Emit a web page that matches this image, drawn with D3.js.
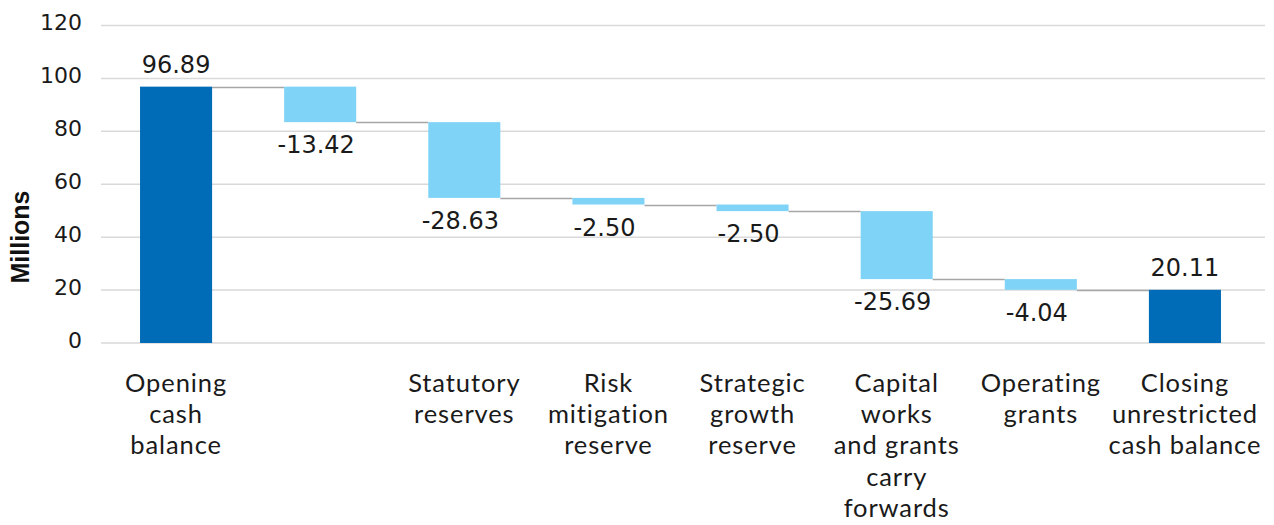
<!DOCTYPE html>
<html>
<head>
<meta charset="utf-8">
<script src="https://cdn.jsdelivr.net/npm/d3@7"></script>
<style>
  html, body { margin: 0; padding: 0; background: #fff; }
  svg { display: block; font-family: Lato, "Noto Sans", sans-serif; }
</style>
</head>
<body>
<svg id="chart" width="1274" height="525"></svg>
<script>
// Waterfall of the unrestricted cash position (values in millions)
const categories = [
  ["Opening", "cash", "balance"],
  [],
  ["Statutory", "reserves"],
  ["Risk", "mitigation", "reserve"],
  ["Strategic", "growth", "reserve"],
  ["Capital", "works", "and grants", "carry", "forwards"],
  ["Operating", "grants"],
  ["Closing", "unrestricted", "cash balance"]
];
const values = [96.89, -13.42, -28.63, -2.50, -2.50, -25.69, -4.04, 20.11];
const isTotal = [true, false, false, false, false, false, false, true];
const yTicks = [0, 20, 40, 60, 80, 100, 120];

const svg = d3.select("#chart");
const darkBlue = "#006BB6", lightBlue = "#7FD3F7";
const numFont = "'DejaVu Sans', Verdana, sans-serif";

// Running totals give each bar its start and end
let running = 0;
const bars = values.map((v, i) => {
  let y0, y1;
  if (isTotal[i]) { y0 = 0; y1 = v; running = v; }
  else { y0 = running; y1 = running + v; running = y1; }
  return { i, v, y0, y1, total: isTotal[i] };
});

const x = d3.scaleBand().domain(d3.range(categories.length)).range([104, 1257])
  .paddingInner(0.5).paddingOuter(0.25);
const y = d3.scaleLinear().domain([0, 120]).range([343, 25.5]);

// Gridlines
svg.append("g").selectAll("line").data(yTicks).join("line")
  .attr("x1", 101).attr("x2", 1265)
  .attr("y1", d => y(d)).attr("y2", d => y(d))
  .attr("stroke", "#d9d9d9").attr("stroke-width", 1.5);

// Y axis labels
const yAxis = svg.append("g").attr("transform", "translate(82,0)")
  .call(d3.axisLeft(y).tickValues(yTicks).tickSize(0).tickPadding(0));
yAxis.select(".domain").remove();
yAxis.selectAll("text")
  .attr("font-family", numFont)
  .attr("font-size", 22).attr("fill", "#1a1a1a").attr("dy", "0.2em");

svg.append("text")
  .attr("transform", "translate(29,237) rotate(-90)")
  .attr("text-anchor", "middle")
  .attr("font-family", "'Liberation Sans', Arial, sans-serif")
  .attr("font-weight", "bold").attr("font-size", 25).attr("fill", "#111")
  .text("Millions");

// Connector lines between consecutive bars
svg.append("g").selectAll("line").data(bars.slice(0, -1)).join("line")
  .attr("x1", d => x(d.i) + x.bandwidth())
  .attr("x2", d => x(d.i + 1))
  .attr("y1", d => Math.round(y(d.y1)) + 0.5)
  .attr("y2", d => Math.round(y(d.y1)) + 0.5)
  .attr("stroke", "#a6a6a6").attr("stroke-width", 1.5);

// Bars
svg.append("g").selectAll("rect").data(bars).join("rect")
  .attr("x", d => x(d.i))
  .attr("width", x.bandwidth())
  .attr("y", d => y(Math.max(d.y0, d.y1)))
  .attr("height", d => Math.abs(y(d.y0) - y(d.y1)))
  .attr("fill", d => d.total ? darkBlue : lightBlue);

// Value labels: above totals, below decreases
svg.append("g").selectAll("text").data(bars).join("text")
  .attr("x", d => x(d.i) + x.bandwidth() / 2)
  .attr("y", d => d.total ? y(d.y1) - 14 : y(Math.min(d.y0, d.y1)) + 31)
  .attr("dx", d => d.v < 0 ? -4 : 0)
  .attr("text-anchor", "middle")
  .attr("font-family", numFont)
  .attr("font-size", 24).attr("fill", "#1a1a1a")
  .text(d => d.v.toFixed(2));

// Category labels, one tspan per line
const cat = svg.append("g").selectAll("text").data(categories).join("text")
  .attr("text-anchor", "middle")
  .attr("font-size", 25.5).attr("letter-spacing", 0.9).attr("fill", "#1a1a1a");
cat.each(function(lines, i) {
  d3.select(this).selectAll("tspan").data(lines).join("tspan")
    .attr("x", x(i) + x.bandwidth() / 2)
    .attr("y", (d, k) => 392 + k * 31.2)
    .text(d => d);
});
</script>
</body>
</html>
